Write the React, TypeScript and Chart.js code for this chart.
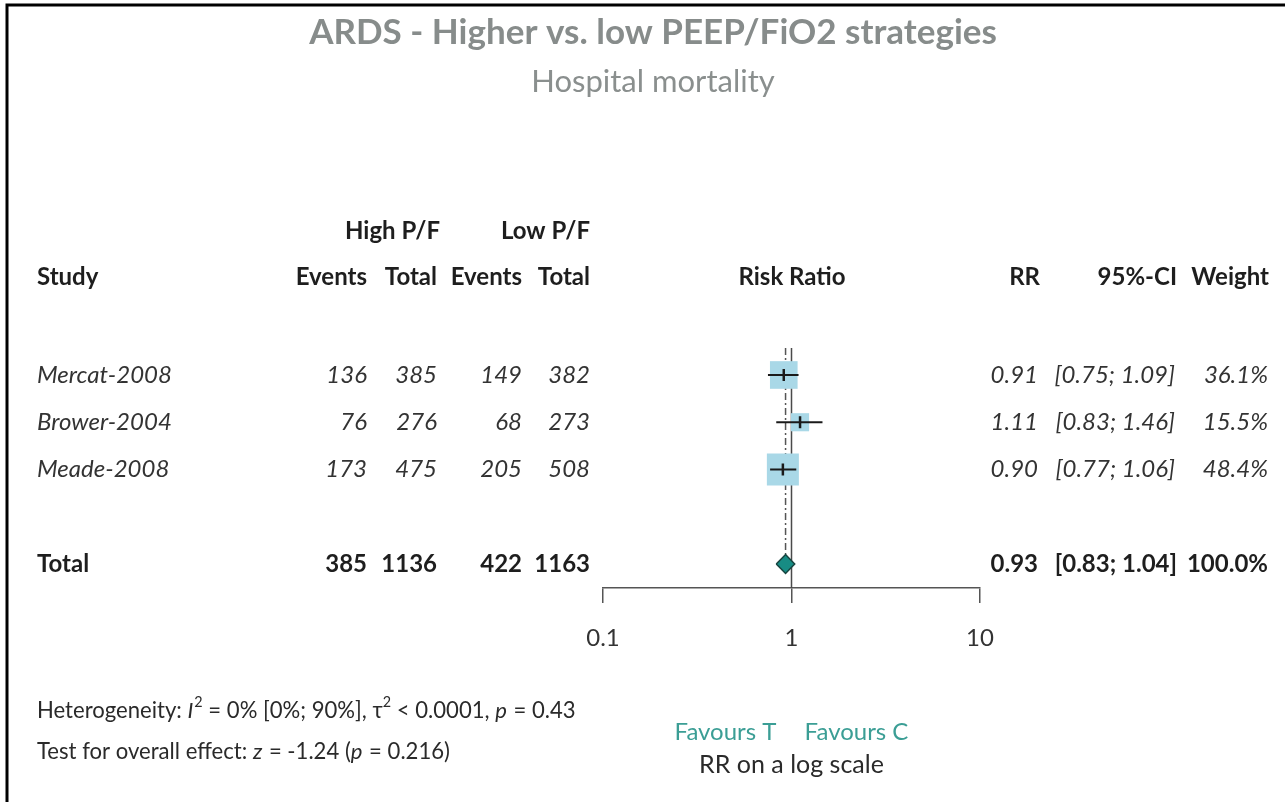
import React, { useEffect, useRef } from 'react';
import { Chart, registerables } from 'chart.js';
Chart.register(...registerables);

// ---- data ----
const studies = ['Mercat-2008', 'Brower-2004', 'Meade-2008'];
const eventsHigh = [136, 76, 173];
const totalHigh = [385, 276, 475];
const eventsLow = [149, 68, 205];
const totalLow = [382, 273, 508];
const rr = [0.91, 1.11, 0.9];
const ciLow = [0.75, 0.83, 0.77];
const ciHigh = [1.09, 1.46, 1.06];
const weights = [36.1, 15.5, 48.4];
const studyRows = [1, 2, 3];

const pooledRow = 5;
const pooledEventsHigh = 385;
const pooledTotalHigh = 1136;
const pooledEventsLow = 422;
const pooledTotalLow = 1163;
const pooledRR = 0.93;
const pooledLow = 0.83;
const pooledHigh = 1.04;
const pooledWeight = 100.0;

const xTicks = [0.1, 1, 10];

const titleText = 'ARDS - Higher vs. low PEEP/FiO2 strategies';
const subtitleText = 'Hospital mortality';
const groupLabels = ['High P/F', 'Low P/F'];
const colHeaders = ['Study', 'Events', 'Total', 'Events', 'Total', 'Risk Ratio', 'RR', '95%-CI', 'Weight'];
const favours = ['Favours T', 'Favours C'];
const axisTitle = 'RR on a log scale';

type Seg = { t: string; it?: boolean; sup?: boolean };
const hetSegs: Seg[] = [
  { t: 'Heterogeneity: ' }, { t: 'I', it: true }, { t: '2', sup: true },
  { t: ' = 0% [0%; 90%], ' }, { t: 'τ' }, { t: '2', sup: true },
  { t: ' < 0.0001, ' }, { t: 'p', it: true }, { t: ' = 0.43' },
];
const testSegs: Seg[] = [
  { t: 'Test for overall effect: ' }, { t: 'z', it: true }, { t: ' = -1.24 (' },
  { t: 'p', it: true }, { t: ' = 0.216)' },
];

const FAM = 'Lato, "Open Sans", sans-serif';

function font(size: number, weight = 'normal', style = 'normal') {
  return `${style} ${weight} ${size}px ${FAM}`;
}

function txt(ctx: CanvasRenderingContext2D, s: string, x: number, y: number, align: CanvasTextAlign, f: string, color: string) {
  ctx.font = f;
  ctx.fillStyle = color;
  ctx.textAlign = align;
  ctx.textBaseline = 'middle';
  ctx.fillText(s, x, y);
}

function rich(ctx: CanvasRenderingContext2D, segs: Seg[], x: number, y: number, size: number, color: string) {
  ctx.textBaseline = 'middle';
  ctx.textAlign = 'left';
  ctx.fillStyle = color;
  let cx = x;
  for (const s of segs) {
    const sz = s.sup ? size * 0.65 : size;
    ctx.font = font(sz, 'normal', s.it ? 'italic' : 'normal');
    ctx.fillText(s.t, cx, s.sup ? y - size * 0.38 : y);
    cx += ctx.measureText(s.t).width + (s.it ? 1 : 0);
  }
}

const textPlugin = {
  id: 'forestText',
  beforeDraw(chart: any) {
    const ctx: CanvasRenderingContext2D = chart.ctx;
    ctx.save();
    ctx.fillStyle = '#ffffff';
    ctx.fillRect(0, 0, chart.width, chart.height);
    ctx.strokeStyle = '#000';
    ctx.lineWidth = 3;
    ctx.beginPath();
    ctx.moveTo(7, chart.height);
    ctx.lineTo(7, 5);
    ctx.lineTo(chart.width, 5);
    ctx.stroke();
    ctx.restore();
  },
  afterDraw(chart: any) {
    const ctx: CanvasRenderingContext2D = chart.ctx;
    const ys = chart.scales.y;
    ctx.save();
    txt(ctx, titleText, 653, 33, 'center', font(35, 'bold'), '#878c8b');
    txt(ctx, subtitleText, 653, 82, 'center', font(31), '#8a8f8e');

    const hb = font(24, 'bold');
    const dark = '#1e1e1e';
    txt(ctx, groupLabels[0], 440, 231, 'right', hb, dark);
    txt(ctx, groupLabels[1], 590, 231, 'right', hb, dark);
    const colX = [37, 367, 437, 522, 590, 792, 1040, 1177, 1269];
    const colA: CanvasTextAlign[] = ['left', 'right', 'right', 'right', 'right', 'center', 'right', 'right', 'right'];
    colHeaders.forEach((h, i) => txt(ctx, h, colX[i], 277, colA[i], hb, dark));

    const it = font(24, 'normal', 'italic');
    const rowCol = '#333333';
    studies.forEach((s, i) => {
      const y = ys.getPixelForValue(studyRows[i]);
      txt(ctx, s, 37, y, 'left', it, rowCol);
      txt(ctx, String(eventsHigh[i]), 367, y, 'right', it, rowCol);
      txt(ctx, String(totalHigh[i]), 437, y, 'right', it, rowCol);
      txt(ctx, String(eventsLow[i]), 522, y, 'right', it, rowCol);
      txt(ctx, String(totalLow[i]), 590, y, 'right', it, rowCol);
      txt(ctx, rr[i].toFixed(2), 1038, y, 'right', it, rowCol);
      txt(ctx, `[${ciLow[i].toFixed(2)}; ${ciHigh[i].toFixed(2)}]`, 1175, y, 'right', it, rowCol);
      txt(ctx, `${weights[i].toFixed(1)}%`, 1268, y, 'right', it, rowCol);
    });

    const py = ys.getPixelForValue(pooledRow);
    txt(ctx, 'Total', 37, py, 'left', hb, dark);
    txt(ctx, String(pooledEventsHigh), 367, py, 'right', hb, dark);
    txt(ctx, String(pooledTotalHigh), 437, py, 'right', hb, dark);
    txt(ctx, String(pooledEventsLow), 522, py, 'right', hb, dark);
    txt(ctx, String(pooledTotalLow), 590, py, 'right', hb, dark);
    txt(ctx, pooledRR.toFixed(2), 1038, py, 'right', hb, dark);
    txt(ctx, `[${pooledLow.toFixed(2)}; ${pooledHigh.toFixed(2)}]`, 1177, py, 'right', hb, dark);
    txt(ctx, `${pooledWeight.toFixed(1)}%`, 1268, py, 'right', hb, dark);

    rich(ctx, hetSegs, 37, 711, 22.1, '#2a2a2a');
    rich(ctx, testSegs, 37, 752, 22.1, '#2a2a2a');

    const xs = chart.scales.x;
    const c1 = xs.getPixelForValue(1);
    txt(ctx, favours[0], c1 - 66, 732, 'center', font(24), '#3b9e95');
    txt(ctx, favours[1], c1 + 65, 732, 'center', font(24), '#3b9e95');
    txt(ctx, axisTitle, c1, 765, 'center', font(25), '#2a2a2a');
    ctx.restore();
  },
};

export default function App() {
  const ref = useRef<HTMLCanvasElement | null>(null);
  useEffect(() => {
    document.body.style.margin = '0';
    const canvas = ref.current!;
    const yTop = 0.429;
    const yBottom = 5.508;
    const datasets: any[] = [];

    datasets.push({
      type: 'line', label: 'no effect', order: 20,
      data: [{ x: 1, y: yTop }, { x: 1, y: yBottom }],
      borderColor: '#4a4a4a', borderWidth: 1.5, pointRadius: 0,
    });
    datasets.push({
      type: 'line', label: 'pooled', order: 19,
      data: [{ x: pooledRR, y: yTop }, { x: pooledRR, y: pooledRow - 0.2 }],
      borderColor: '#555', borderWidth: 1.5, borderDash: [7, 3, 2, 3], pointRadius: 0,
    });
    datasets.push({
      type: 'scatter', label: 'weights', order: 10,
      data: studies.map((_, i) => ({ x: rr[i], y: studyRows[i] })),
      pointStyle: 'rect',
      pointRadius: weights.map((w) => (4.6 * Math.sqrt(w)) / Math.SQRT2),
      backgroundColor: '#a9d8e7', borderWidth: 0,
    });
    studies.forEach((_, i) => {
      datasets.push({
        type: 'line', label: 'ci' + i, order: 6,
        data: [{ x: ciLow[i], y: studyRows[i] }, { x: ciHigh[i], y: studyRows[i] }],
        borderColor: '#1a1a1a', borderWidth: 2, pointRadius: 0,
      });
    });
    datasets.push({
      type: 'scatter', label: 'rr', order: 4,
      data: studies.map((_, i) => ({ x: rr[i], y: studyRows[i] })),
      pointStyle: 'line', rotation: 90, pointRadius: 6,
      borderColor: '#1a1a1a', borderWidth: 2.5, backgroundColor: '#1a1a1a',
    });
    datasets.push({
      type: 'line', label: 'diamond', order: 2,
      data: [
        { x: pooledLow, y: pooledRow }, { x: pooledRR, y: pooledRow - 0.2 },
        { x: pooledHigh, y: pooledRow }, { x: pooledRR, y: pooledRow + 0.2 },
        { x: pooledLow, y: pooledRow },
      ],
      fill: 'shape', backgroundColor: '#178c84', borderColor: '#17443f', borderWidth: 1.5,
      pointRadius: 0, tension: 0,
    });

    const chart = new Chart(canvas, {
      type: 'scatter',
      data: { datasets },
      options: {
        responsive: false,
        animation: false,
        devicePixelRatio: 1,
        layout: { padding: { left: 603, right: 305, top: 348, bottom: 0 } },
        plugins: { legend: { display: false }, tooltip: { enabled: false } },
        scales: {
          x: {
            type: 'logarithmic', min: 0.1, max: 10,
            afterBuildTicks: (s: any) => { s.ticks = xTicks.map((v) => ({ value: v })); },
            afterFit: (s: any) => { s.height = 802 - 588; },
            ticks: {
              callback: (v: any) => String(v), font: { family: FAM, size: 24 }, color: '#333', padding: 21,
              maxRotation: 0, autoSkip: false,
            },
            grid: { drawOnChartArea: false, drawTicks: true, tickLength: 15, color: '#555', lineWidth: 1.5 },
            border: { display: true, color: '#555', width: 1.5 },
          },
          y: { type: 'linear', min: yTop, max: yBottom, reverse: true, display: false },
        },
      } as any,
      plugins: [textPlugin],
    });
    return () => chart.destroy();
  }, []);
  return (
    <div style={{ position: 'absolute', left: 0, top: 0, width: 1285, height: 802 }}>
      <canvas ref={ref} width={1285} height={802} />
    </div>
  );
}
